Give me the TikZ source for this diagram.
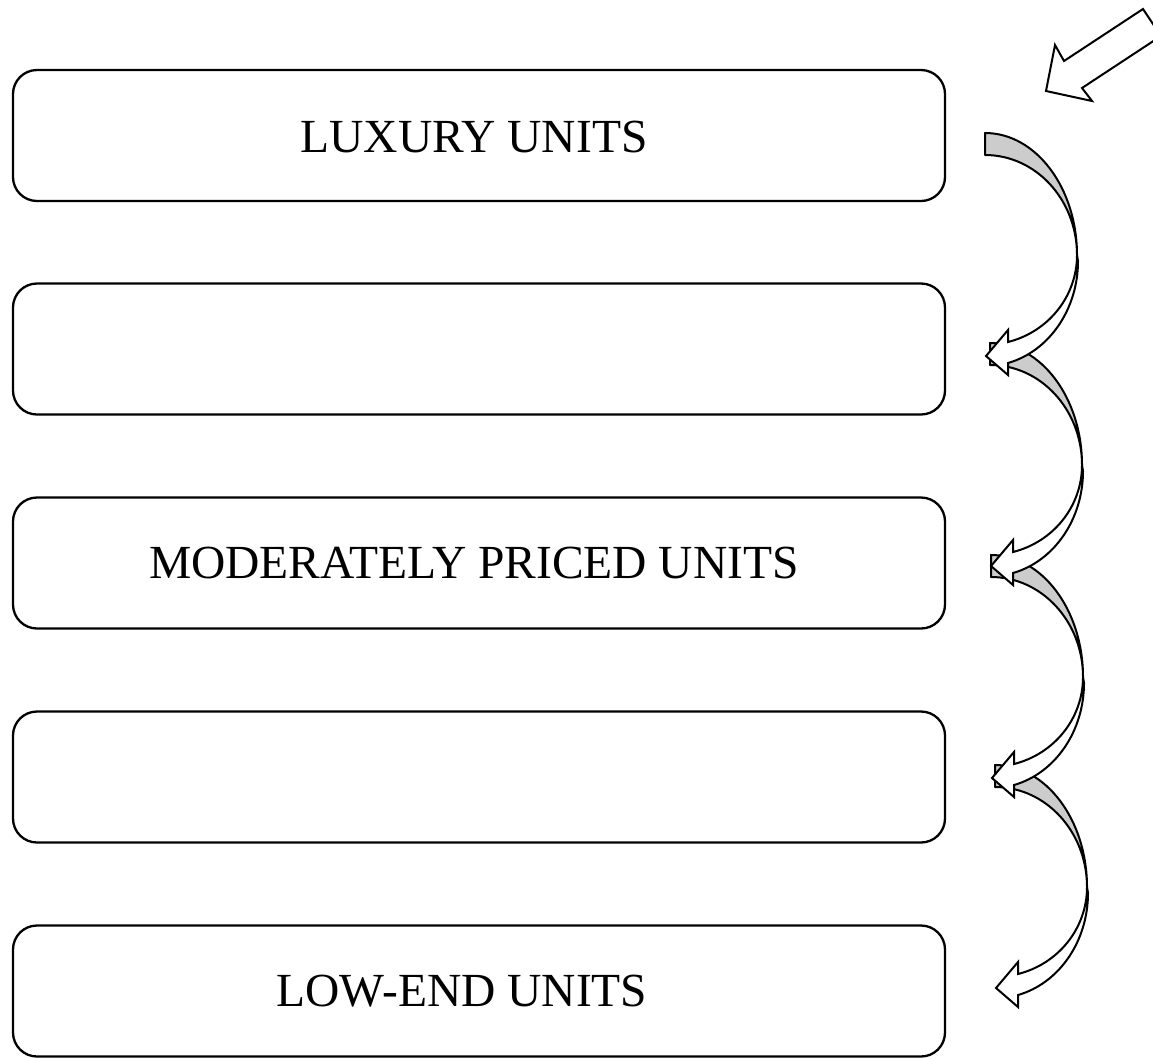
\documentclass[tikz,border=0pt]{standalone}
\usepackage{fontspec}
\setmainfont{Liberation Serif}
\begin{document}
\begin{tikzpicture}[x=1pt,y=-1pt,
  unitbox/.style={draw=black, line width=2.3pt, rounded corners=24pt,
    minimum width=932pt, minimum height=131pt, inner sep=0pt},
  unitlabel/.style={anchor=base, inner sep=0pt, font=\fontsize{47.5pt}{50pt}\selectfont},
  backfill/.style={fill=black!20, draw=black, line width=2pt, line join=round},
  frontfill/.style={fill=white, draw=black, line width=2pt, line join=miter},
  pics/cback/.style={code={
    \filldraw[backfill] (0,0) .. controls (51,0) and (92,55) .. (92,122)
      .. controls (92,67) and (51,22) .. (0,22) -- cycle;}},
  pics/cfront/.style={code={
    \filldraw[frontfill] (92,122) .. controls (92,163) and (63.7,198.7) .. (23,209)
      -- (23,197) -- (1,223) -- (23,242) -- (23,230)
      .. controls (64.4,218.1) and (93,176) .. (93,128) -- cycle;}}
]
\useasboundingbox (0,0) rectangle (1153,1058);
\clip (0,0) rectangle (1153,1058);

% the five price tiers
\node[unitbox] (b1) at (479,135.5) {};
\node[unitbox] (b2) at (479,349)   {};
\node[unitbox] (b3) at (479,563)   {};
\node[unitbox] (b4) at (479,777)   {};
\node[unitbox] (b5) at (479,991)   {};

\node[unitlabel] (t1) at (474,152)  {LUXURY UNITS};
\node[unitlabel] (t3) at (474,578)  {MODERATELY PRICED UNITS};
\node[unitlabel] (t5) at (462,1006) {LOW-END UNITS};

% curved arrows stepping down the tiers: back faces first, then fronts
\pic at (985,133) {cback};
\pic at (990,343) {cback};
\pic at (991,555) {cback};
\pic at (995,765) {cback};

\pic at (985,133) {cfront};
\pic at (990,343) {cfront};
\pic at (991,555) {cfront};
\pic at (995,765) {cfront};

% incoming block arrow at the top right
\filldraw[frontfill] (1143,9) -- (1161,36) -- (1082,88) -- (1092,101)
  -- (1046,91) -- (1055,45) -- (1064,61) -- cycle;
\end{tikzpicture}
\end{document}
